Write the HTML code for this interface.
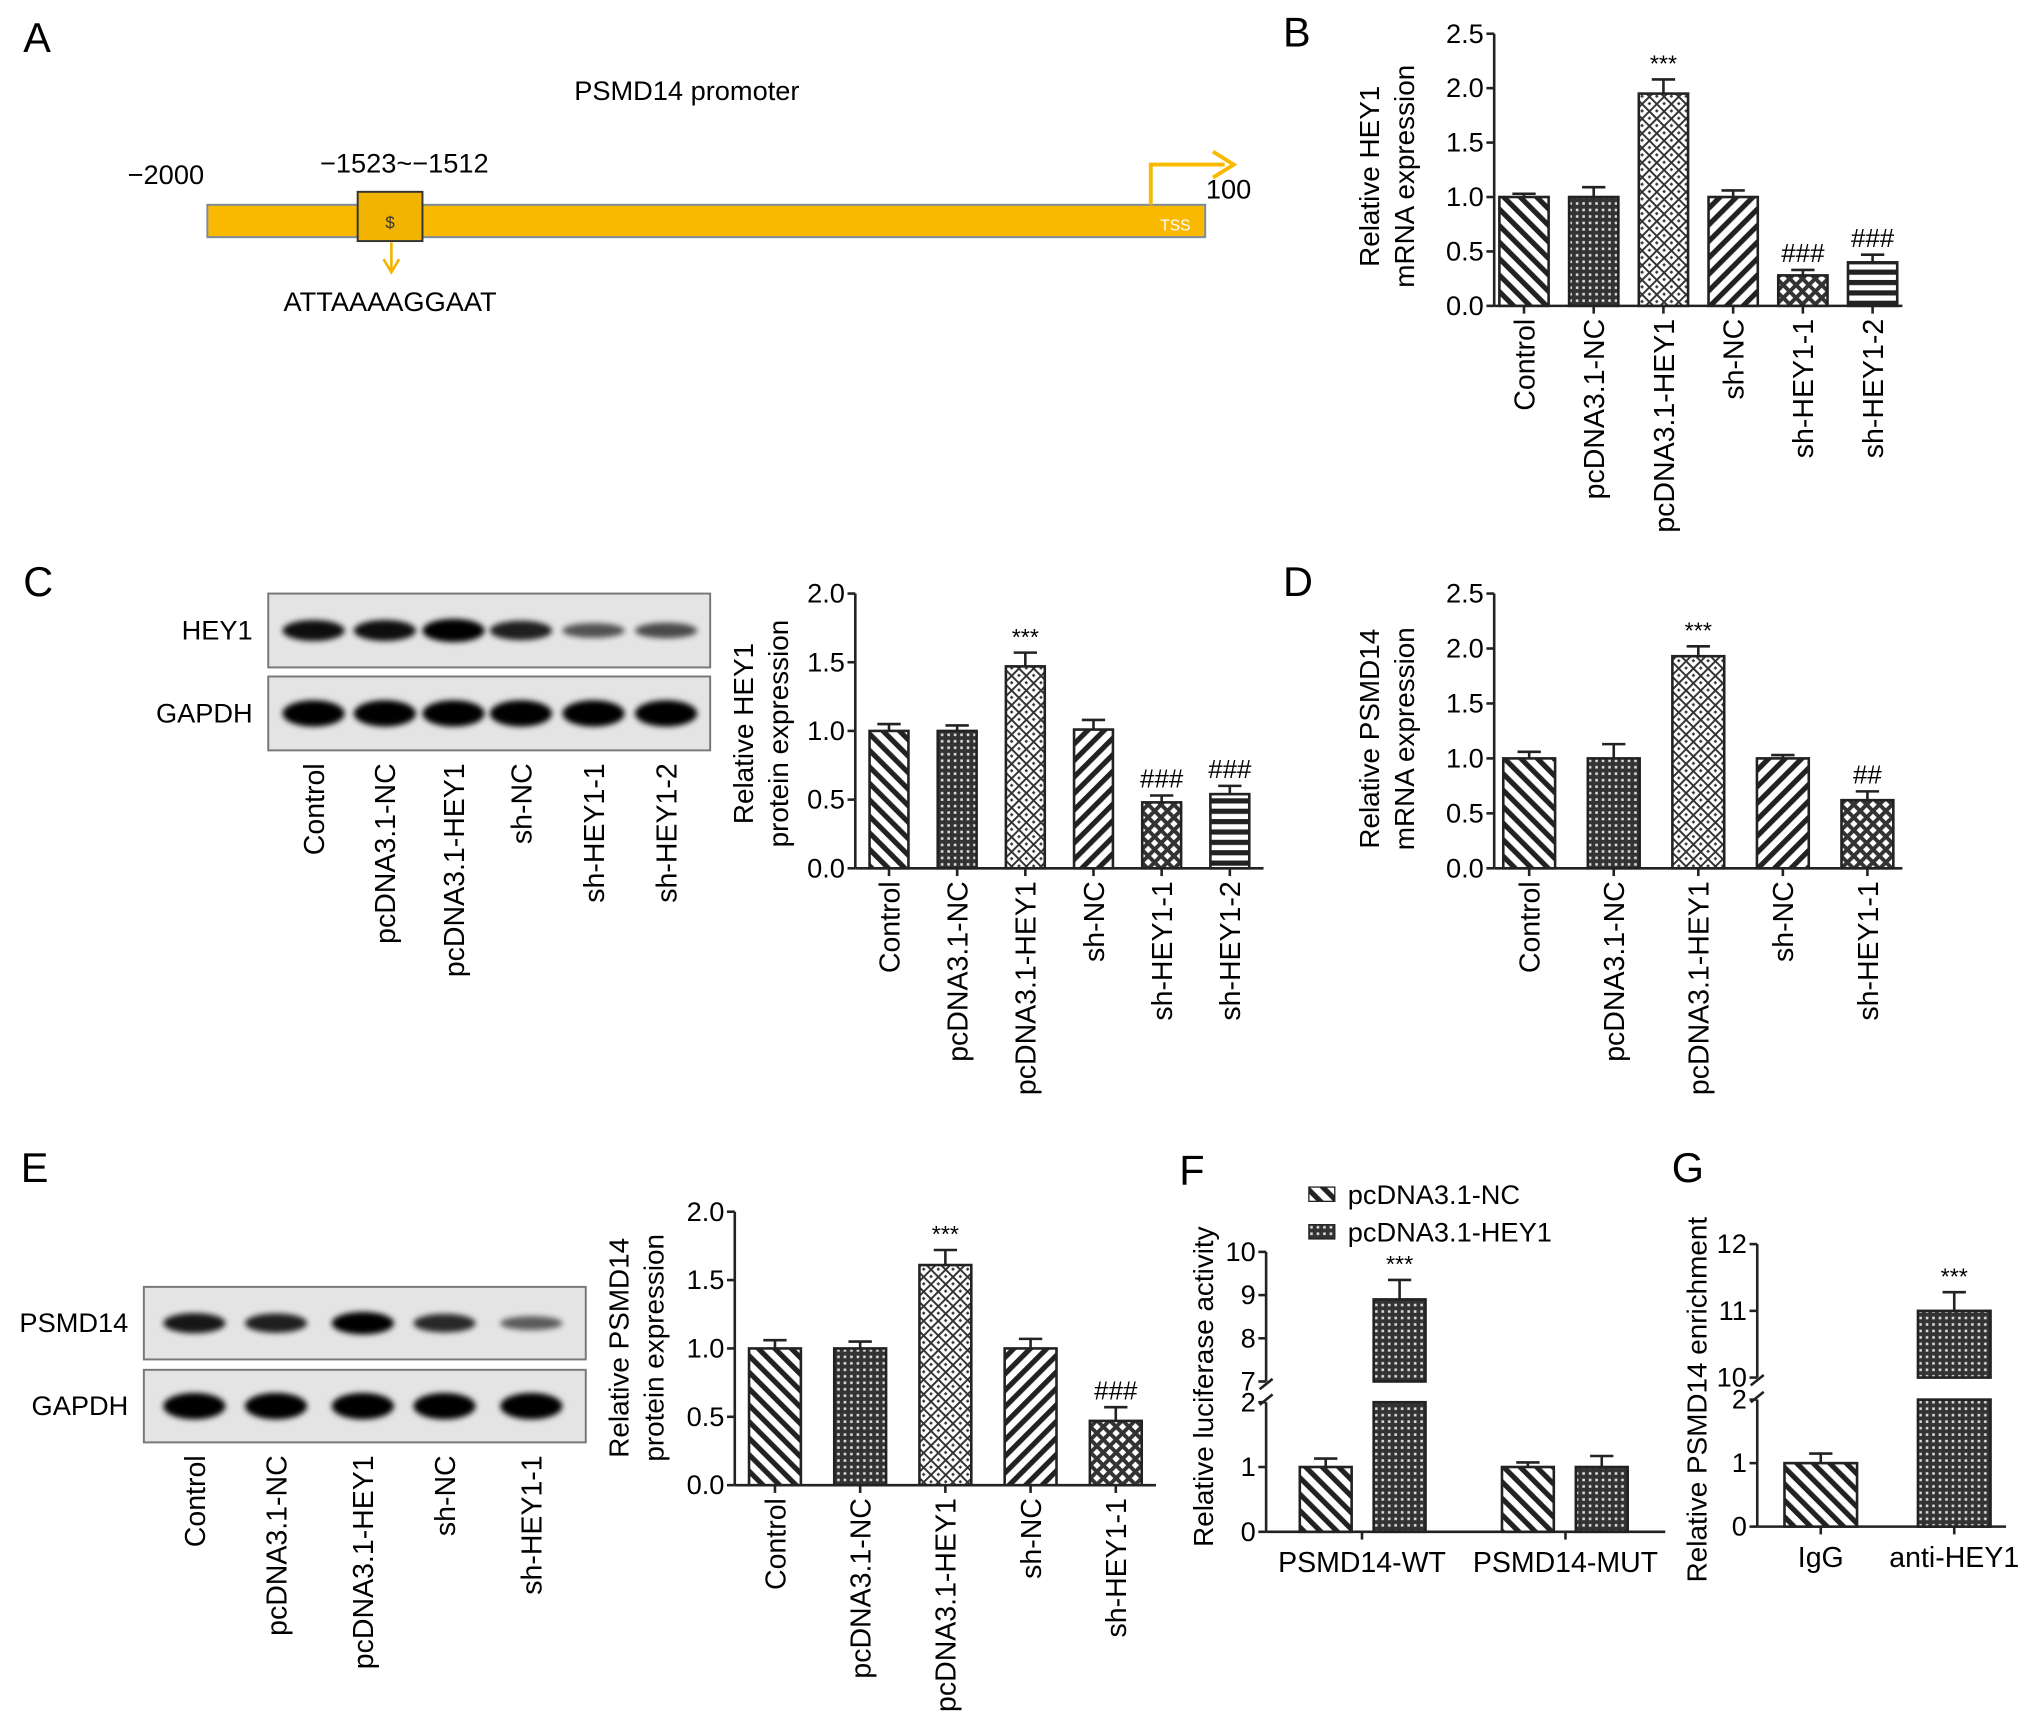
<!DOCTYPE html>
<html><head><meta charset="utf-8">
<style>
html,body{margin:0;padding:0;background:#fff;}
svg{display:block;font-family:"Liberation Sans",Arial,sans-serif;}
</style></head>
<body>
<svg id="fig" width="2032" height="1734" viewBox="0 0 1568 1338" xmlns="http://www.w3.org/2000/svg">
<defs>
  <pattern id="p-back" patternUnits="userSpaceOnUse" width="9" height="9" patternTransform="rotate(-45)">
    <rect width="9" height="9" fill="#fff"/><rect width="4" height="9" fill="#222"/>
  </pattern>
  <pattern id="p-fwd" patternUnits="userSpaceOnUse" width="9" height="9" patternTransform="rotate(45)">
    <rect width="9" height="9" fill="#fff"/><rect width="4" height="9" fill="#222"/>
  </pattern>
  <pattern id="p-grid" patternUnits="userSpaceOnUse" width="5" height="5">
    <rect width="5" height="5" fill="#333"/><rect x="1" y="1" width="2" height="2" fill="#ddd"/>
  </pattern>
  <pattern id="p-dots" patternUnits="userSpaceOnUse" width="8" height="8" patternTransform="rotate(45)">
    <rect width="8" height="8" fill="#fff"/><rect width="8" height="1.5" fill="#333"/><rect width="1.5" height="8" fill="#333"/>
    <rect x="3.5" y="3.5" width="2" height="2" fill="#333"/>
  </pattern>
  <pattern id="p-check" patternUnits="userSpaceOnUse" width="7" height="7" patternTransform="rotate(45)">
    <rect width="7" height="7" fill="#fff"/><rect width="7" height="3" fill="#333"/><rect width="3" height="7" fill="#333"/>
  </pattern>
  <pattern id="p-horiz" patternUnits="userSpaceOnUse" width="8" height="8">
    <rect width="8" height="8" fill="#fff"/><rect width="8" height="4" fill="#222"/>
  </pattern>
  <filter id="blur" x="-20%" y="-50%" width="140%" height="200%"><feGaussianBlur stdDeviation="2.2"/></filter>
</defs>

<g>
  <text x="18" y="40" font-size="32">A</text>
  <text x="530" y="77" font-size="21" text-anchor="middle">PSMD14 promoter</text>
  <rect x="160" y="158" width="770" height="25" fill="#f8b900" stroke="#7a8aa0" stroke-width="1.5"/>
  <rect x="276" y="148" width="50" height="38" fill="#f2b400" stroke="#333" stroke-width="1.5"/>
  <text x="301" y="176" font-size="13" text-anchor="middle" fill="#333">$</text>
  <line x1="302" y1="187" x2="302" y2="208" stroke="#f2b400" stroke-width="2"/>
  <path d="M296,200 L302,210 L308,200" fill="none" stroke="#f2b400" stroke-width="2"/>
  <text x="301" y="240" font-size="21" text-anchor="middle">ATTAAAAGGAAT</text>
  <text x="128" y="142" font-size="21" text-anchor="middle">−2000</text>
  <text x="312" y="133" font-size="21" text-anchor="middle">−1523~−1512</text>
  <path d="M888,158 L888,127 L945,127" fill="none" stroke="#f8b900" stroke-width="3"/>
  <path d="M936,117 L952,127 L936,137" fill="none" stroke="#f8b900" stroke-width="3"/>
  <text x="948" y="153" font-size="21" text-anchor="middle">100</text>
  <text x="907" y="178" font-size="12" text-anchor="middle" fill="#fff">TSS</text>
</g>

<text x="990" y="36" font-size="32">B</text>
<text x="18" y="460" font-size="32">C</text>
<text x="990" y="460" font-size="32">D</text>
<text x="16" y="912" font-size="32">E</text>
<text x="910" y="914" font-size="32">F</text>
<text x="1290" y="912" font-size="32">G</text>

<g id="charts"></g>
</svg>

<script>
// ---------- data ----------
const catsB = ["Control","pcDNA3.1-NC","pcDNA3.1-HEY1","sh-NC","sh-HEY1-1","sh-HEY1-2"];
const valsB = [1.0, 1.0, 1.95, 1.0, 0.28, 0.40];
const errB  = [0.03, 0.09, 0.13, 0.06, 0.05, 0.07];
const sigB  = ["", "", "***", "", "###", "###"];
const ticksB = ["0.0","0.5","1.0","1.5","2.0","2.5"];

const catsC = ["Control","pcDNA3.1-NC","pcDNA3.1-HEY1","sh-NC","sh-HEY1-1","sh-HEY1-2"];
const valsC = [1.0, 1.0, 1.47, 1.01, 0.48, 0.54];
const errC  = [0.05, 0.04, 0.10, 0.07, 0.05, 0.06];
const sigC  = ["", "", "***", "", "###", "###"];
const ticksC = ["0.0","0.5","1.0","1.5","2.0"];
const blotHEY1  = [0.85, 0.85, 1.0, 0.75, 0.45, 0.5];
const blotGAPDH = [1, 1, 1, 1, 1, 1];

const catsD = ["Control","pcDNA3.1-NC","pcDNA3.1-HEY1","sh-NC","sh-HEY1-1"];
const valsD = [1.0, 1.0, 1.93, 1.0, 0.62];
const errD  = [0.06, 0.13, 0.09, 0.03, 0.08];
const sigD  = ["", "", "***", "", "##"];
const ticksD = ["0.0","0.5","1.0","1.5","2.0","2.5"];

const catsE = ["Control","pcDNA3.1-NC","pcDNA3.1-HEY1","sh-NC","sh-HEY1-1"];
const valsE = [1.0, 1.0, 1.61, 1.0, 0.47];
const errE  = [0.06, 0.05, 0.11, 0.07, 0.10];
const sigE  = ["", "", "***", "", "###"];
const ticksE = ["0.0","0.5","1.0","1.5","2.0"];
const blotPSMD14 = [0.8, 0.75, 0.95, 0.7, 0.4];
const blotGAPDH2 = [1, 1, 1, 1, 1];

const groupsF = ["PSMD14-WT","PSMD14-MUT"];
const seriesF = ["pcDNA3.1-NC","pcDNA3.1-HEY1"];
const valsF_NC   = [1.0, 1.0];
const errF_NC    = [0.13, 0.07];
const valsF_HEY1 = [8.9, 1.0];
const errF_HEY1  = [0.45, 0.17];
const sigF_HEY1  = ["***", ""];
const ticksF_low = [0, 1, 2];
const ticksF_high = [7, 8, 9, 10];

const catsG = ["IgG","anti-HEY1"];
const valsG = [1.0, 11.0];
const errG  = [0.15, 0.28];
const sigG  = ["", "***"];
const ticksG_low = [0, 1, 2];
const ticksG_high = [10, 11, 12];

// ---------- helpers ----------
const NS = "http://www.w3.org/2000/svg";
const root = document.getElementById("charts");
function mk(tag, attrs, parent) {
  const e = document.createElementNS(NS, tag);
  for (const k in attrs) e.setAttribute(k, attrs[k]);
  (parent || root).appendChild(e);
  return e;
}
const patMap = {"Control":"p-back","pcDNA3.1-NC":"p-grid","pcDNA3.1-HEY1":"p-dots","sh-NC":"p-fwd","sh-HEY1-1":"p-check","sh-HEY1-2":"p-horiz","IgG":"p-back","anti-HEY1":"p-grid"};
const TF = 21, CF = 22, AF = 21.5;

function barChart(o) {
  const g = mk("g", {});
  
  
  const yScale = v => o.y0 - (v / o.ymax) * (o.y0 - o.ytop);
  const ya = mk("line", {x1:o.ax, y1:o.ytop, x2:o.ax, y2:o.y0, stroke:"#222","stroke-width":2}, g);
  
  
  const xa = mk("line", {x1:o.ax, y1:o.y0, x2:o.xend, y2:o.y0, stroke:"#222","stroke-width":2}, g);
  
  
  o.ticks.forEach(t => {
    const y = yScale(parseFloat(t));
    mk("line", {x1:o.ax-6, y1:y, x2:o.ax, y2:y, stroke:"#222","stroke-width":2}, g);
    const tx = mk("text", {x:o.ax-8, y:y+7, "font-size":TF, "text-anchor":"end"}, g);
    
    
    tx.textContent = t;
  });
  const n = o.cats.length;
  const step = (o.xend - o.ax - o.pad*2) / (n - 1);
  o.cats.forEach((c, i) => {
    const cx = o.ax + o.pad + i * step;
    const yv = yScale(o.vals[i]);
    const ye = yScale(o.vals[i] + o.errs[i]);
    mk("line", {x1:cx, y1:ye, x2:cx, y2:yv, stroke:"#222","stroke-width":2}, g);
    mk("line", {x1:cx-9, y1:ye, x2:cx+9, y2:ye, stroke:"#222","stroke-width":2}, g);
    const b = mk("rect", {x:cx-o.bw/2, y:yv, width:o.bw, height:o.y0-yv, fill:"url(#"+patMap[c]+")", stroke:"#222","stroke-width":2}, g);
    
    
    mk("line", {x1:cx, y1:o.y0, x2:cx, y2:o.y0+6, stroke:"#222","stroke-width":2}, g);
    if (o.sig[i]) {
      const s = mk("text", {x:cx, y:ye-6, "font-size":o.sig[i][0]=="*"?18:20, "text-anchor":"middle"}, g);
      
      
      s.textContent = o.sig[i];
    }
    const lx = cx + 8, ly = o.y0 + 10;
    const l = mk("text", {x:lx, y:ly, "font-size":CF, "text-anchor":"end", transform:"rotate(-90 "+lx+" "+ly+")"}, g);
    
    
    l.textContent = c;
  });
  o.title.forEach((t, k) => {
    const tx = o.tx + k*27, ty = o.tcy;
    const e = mk("text", {x:tx, y:ty, "font-size":AF, "text-anchor":"middle", transform:"rotate(-90 "+tx+" "+ty+")"}, g);
    
    
    e.textContent = t;
  });
}

function blot(o) {
  const g = mk("g", {});
  
  
  o.rows.forEach((r, k) => {
    const y = o.ys[k];
    const box = mk("rect", {x:o.x, y:y, width:o.w, height:o.h, fill:"#e4e4e4", stroke:"#777","stroke-width":1.5}, g);
    
    
    const lt = mk("text", {x:o.x-12, y:y+o.h/2+7, "font-size":21, "text-anchor":"end"}, g);
    
    
    lt.textContent = r.label;
    r.vals.forEach((v, i) => {
      const cx = o.lanes[i];
      const band = mk("ellipse", {cx:cx, cy:y+o.h/2, rx:24, ry:3+6*v*(k==1?1.2:1), fill:"#000", opacity:Math.min(1,0.3+0.75*v), filter:"url(#blur)"}, g);
      
      
    });
  });
  o.cats.forEach((c, i) => {
    const lx = o.lanes[i] + 8, ly = o.ys[1] + o.h + 10;
    const l = mk("text", {x:lx, y:ly, "font-size":CF, "text-anchor":"end", transform:"rotate(-90 "+lx+" "+ly+")"}, g);
    
    
    l.textContent = c;
  });
}

function brokenChart(o) {
  const g = mk("g", {});
  
  
  const yL = v => o.y0 - (v - o.lowMin) / (o.lowMax - o.lowMin) * (o.y0 - o.lowTop);
  const yH = v => o.highBot - (v - o.highMin) / (o.highMax - o.highMin) * (o.highBot - o.highTop);
  const Y = v => v <= o.lowMax ? yL(v) : yH(v);
  mk("line", {x1:o.ax, y1:o.y0, x2:o.ax, y2:o.lowTop, stroke:"#222","stroke-width":2}, g);
  mk("line", {x1:o.ax, y1:o.highBot, x2:o.ax, y2:o.highTop, stroke:"#222","stroke-width":2}, g);
  mk("line", {x1:o.ax-5, y1:o.lowTop+2, x2:o.ax+5, y2:o.lowTop-6, stroke:"#222","stroke-width":2}, g);
  mk("line", {x1:o.ax-5, y1:o.highBot+6, x2:o.ax+5, y2:o.highBot-2, stroke:"#222","stroke-width":2}, g);
  const xa = mk("line", {x1:o.ax, y1:o.y0, x2:o.xend, y2:o.y0, stroke:"#222","stroke-width":2}, g);
  
  
  o.ticksLow.forEach(t => {
    const y = yL(t);
    mk("line", {x1:o.ax-6, y1:y, x2:o.ax, y2:y, stroke:"#222","stroke-width":2}, g);
    const tx = mk("text", {x:o.ax-8, y:y+7, "font-size":TF, "text-anchor":"end"}, g);
    
    
    tx.textContent = t;
  });
  o.ticksHigh.forEach(t => {
    const y = yH(t);
    mk("line", {x1:o.ax-6, y1:y, x2:o.ax, y2:y, stroke:"#222","stroke-width":2}, g);
    const tx = mk("text", {x:o.ax-8, y:y+7, "font-size":TF, "text-anchor":"end"}, g);
    
    
    tx.textContent = t;
  });
  o.bars.forEach(b => {
    const yv = Y(b.v), ye = Y(b.v + b.e);
    mk("line", {x1:b.cx, y1:ye, x2:b.cx, y2:yv, stroke:"#222","stroke-width":2}, g);
    mk("line", {x1:b.cx-9, y1:ye, x2:b.cx+9, y2:ye, stroke:"#222","stroke-width":2}, g);
    if (b.v > o.lowMax) {
      const r1 = mk("rect", {x:b.cx-b.w/2, y:o.lowTop, width:b.w, height:o.y0-o.lowTop, fill:"url(#"+b.p+")", stroke:"#222","stroke-width":2}, g);
      
      
      const r2 = mk("rect", {x:b.cx-b.w/2, y:yv, width:b.w, height:o.highBot-yv, fill:"url(#"+b.p+")", stroke:"#222","stroke-width":2}, g);
      
      
    } else {
      const r = mk("rect", {x:b.cx-b.w/2, y:yv, width:b.w, height:o.y0-yv, fill:"url(#"+b.p+")", stroke:"#222","stroke-width":2}, g);
      
      
    }
    if (b.s) {
      const s = mk("text", {x:b.cx, y:ye-6, "font-size":18, "text-anchor":"middle"}, g);
      
      
      s.textContent = b.s;
    }
  });
  o.labels.forEach(l => {
    mk("line", {x1:l.x, y1:o.y0, x2:l.x, y2:o.y0+6, stroke:"#222","stroke-width":2}, g);
    const t = mk("text", {x:l.x, y:o.y0+31, "font-size":CF, "text-anchor":"middle"}, g);
    
    
    t.textContent = l.t;
  });
  const t = mk("text", {x:o.tx, y:o.tcy, "font-size":AF, "text-anchor":"middle", transform:"rotate(-90 "+o.tx+" "+o.tcy+")"}, g);
  
  
  t.textContent = o.title;
}

// ---------- draw ----------
barChart({name:"chart-b", cats:catsB, vals:valsB, errs:errB, sig:sigB, ticks:ticksB, ymax:2.5,
  ax:1153, y0:236, ytop:26, xend:1468, pad:23, bw:38, title:["Relative HEY1","mRNA expression"], tx:1064, tcy:136});
blot({name:"blot-c", x:207, w:341, h:57, ys:[458,522], lanes:[242,297,350,402,458,514], cats:catsC,
  rows:[{label:"HEY1", vals:blotHEY1},{label:"GAPDH", vals:blotGAPDH}]});
barChart({name:"chart-c", cats:catsC, vals:valsC, errs:errC, sig:sigC, ticks:ticksC, ymax:2.0,
  ax:660, y0:670, ytop:458, xend:975, pad:26, bw:30, title:["Relative HEY1","protein expression"], tx:581, tcy:566});
barChart({name:"chart-d", cats:catsD, vals:valsD, errs:errD, sig:sigD, ticks:ticksD, ymax:2.5,
  ax:1153, y0:670, ytop:458, xend:1468, pad:27, bw:40, title:["Relative PSMD14","mRNA expression"], tx:1064, tcy:570});
blot({name:"blot-e", x:111, w:341, h:56, ys:[993,1057], lanes:[150,213,280,343,410], cats:catsE,
  rows:[{label:"PSMD14", vals:blotPSMD14},{label:"GAPDH", vals:blotGAPDH2}]});
barChart({name:"chart-e", cats:catsE, vals:valsE, errs:errE, sig:sigE, ticks:ticksE, ymax:2.0,
  ax:567, y0:1146, ytop:935, xend:892, pad:31, bw:40, title:["Relative PSMD14","protein expression"], tx:485, tcy:1040});

const cxF = [[1023,1080],[1179,1236]];
const barsF = [];
groupsF.forEach((gname, i) => {
  barsF.push({cx:cxF[i][0], w:40, v:valsF_NC[i], e:errF_NC[i], p:"p-back", n:"nc-"+gname.toLowerCase(), s:""});
  barsF.push({cx:cxF[i][1], w:40, v:valsF_HEY1[i], e:errF_HEY1[i], p:"p-grid", n:"hey1-"+gname.toLowerCase(), s:sigF_HEY1[i]});
});
brokenChart({name:"chart-f", ax:977, xend:1285, y0:1182, lowMin:0, lowMax:2, lowTop:1082, highMin:7, highMax:10, highBot:1066, highTop:966,
  ticksLow:ticksF_low, ticksHigh:ticksF_high, bars:barsF,
  labels:[{x:1051,t:groupsF[0]},{x:1208,t:groupsF[1]}], title:"Relative luciferase activity", tx:936, tcy:1070});
[["p-back",922],["p-grid",951]].forEach((s, i) => {
  const r = mk("rect", {x:1010, y:s[1]-6, width:20, height:11, fill:"url(#"+s[0]+")", stroke:"#222","stroke-width":1});
  
  
  const t = mk("text", {x:1040, y:s[1]+7, "font-size":21});
  
  
  t.textContent = seriesF[i];
});

const cxG = [1405, 1508];
brokenChart({name:"chart-g", ax:1356, xend:1548, y0:1178, lowMin:0, lowMax:2, lowTop:1080, highMin:10, highMax:12, highBot:1063, highTop:960,
  ticksLow:ticksG_low, ticksHigh:ticksG_high,
  bars:catsG.map((c,i)=>({cx:cxG[i], w:56, v:valsG[i], e:errG[i], p:patMap[c], n:c.toLowerCase(), s:sigG[i]})),
  labels:catsG.map((c,i)=>({x:cxG[i], t:c})), title:"Relative PSMD14 enrichment", tx:1317, tcy:1080});
</script>
</body></html>
